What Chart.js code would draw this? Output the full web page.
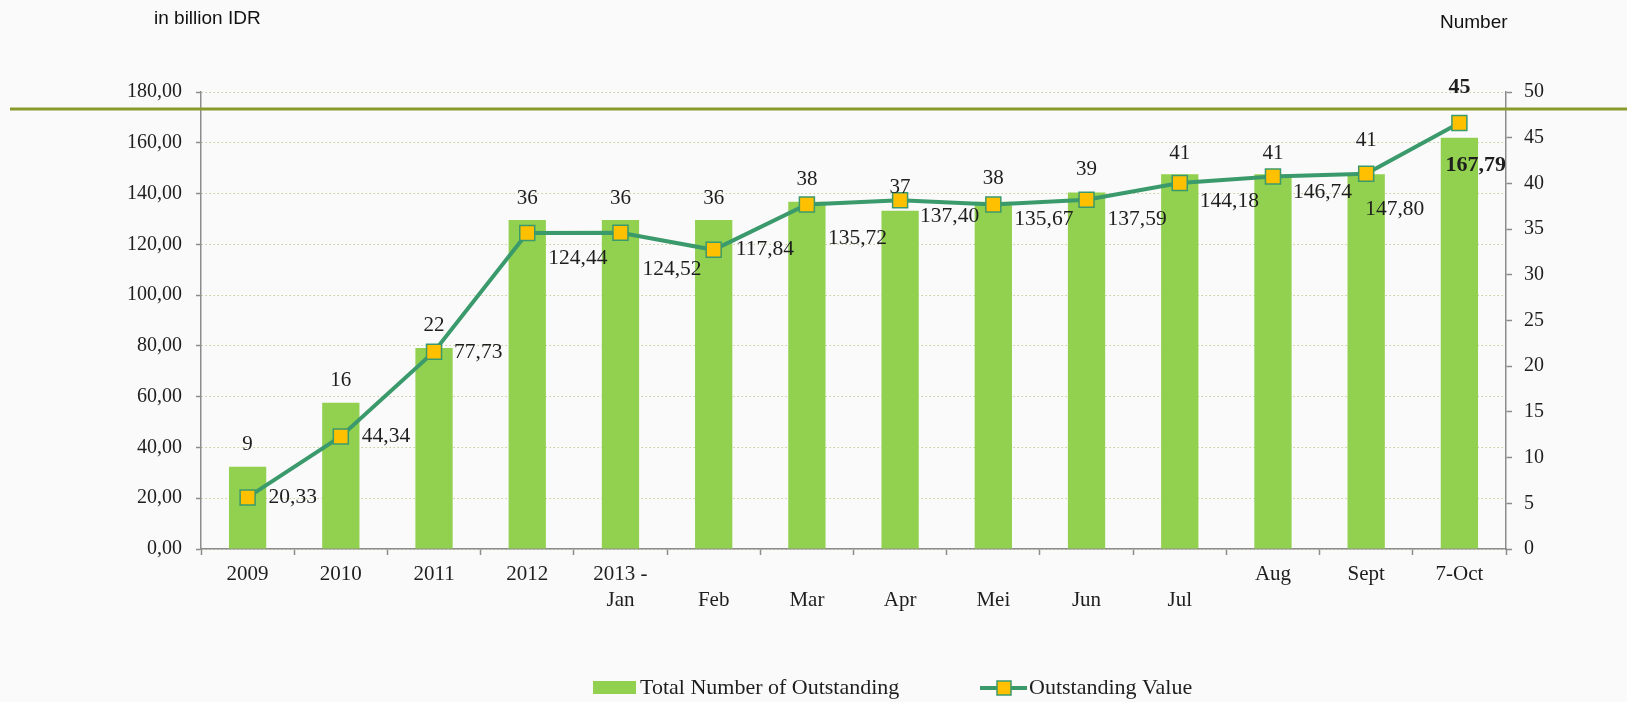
<!DOCTYPE html>
<html>
<head>
<meta charset="utf-8">
<script src="https://cdn.jsdelivr.net/npm/chart.js@4.4.1/dist/chart.umd.min.js"></script>
<style>
body{margin:0;background:#fafafa;}
canvas{display:block;}
</style>
</head>
<body>
<canvas id="outstandingChart" width="1627" height="702"></canvas>
<script>
const categories = [["2009"],["2010"],["2011"],["2012"],["2013 -","Jan"],["","Feb"],["","Mar"],["","Apr"],["","Mei"],["","Jun"],["","Jul"],["Aug"],["Sept"],["7-Oct"]];
const totalNumber = [9,16,22,36,36,36,38,37,38,39,41,41,41,45];
const outstandingValue = [20.33,44.34,77.73,124.44,124.52,117.84,135.72,137.40,135.67,137.59,144.18,146.74,147.80,167.79];
const valueTicks = [0,20,40,60,80,100,120,140,160,180];
const numberTicks = [0,5,10,15,20,25,30,35,40,45,50];

const barColor = "#92d050";
const lineColor = "#3b9a6c";
const serif = "'Liberation Serif', 'Times New Roman', serif";

// label nudges so the two series' labels don't collide
const numberLabelShift = [-22,-22,-22,-21,-21,-21,-22,-23,-23,-23,-21,-21,-34,-50];
const valueLabelShift = [[21,0],[21,0],[20,1],[21,25],[22,37],[22,0],[21,34],[20,16],[21,15],[21,20],[20,18],[20,16],[-1,36],[-14,42]];

const fmt = v => v.toFixed(2).replace(".", ",");

const decor = {
id:"decor",
beforeDraw(chart){
const c = chart.ctx;
c.save();
c.fillStyle = "#fafafa";
c.fillRect(0,0,chart.width,chart.height);
c.restore();
},
afterDatasetsDraw(chart){
const c = chart.ctx;
c.save();
c.fillStyle = "#1e1e1e";
c.textAlign = "center";
c.textBaseline = "middle";

chart.getDatasetMeta(1).data.forEach((bar,i)=>{
let last = i === totalNumber.length-1;
c.font = (last ? "bold 22px " : "21px ") + serif;
c.fillText(String(totalNumber[i]), bar.x, bar.y + numberLabelShift[i]);
});

c.textAlign = "left";
chart.getDatasetMeta(0).data.forEach((pt,i)=>{
let last = i === outstandingValue.length-1;
c.font = (last ? "bold 22px " : "21.5px ") + serif;
c.fillText(fmt(outstandingValue[i]), pt.x + valueLabelShift[i][0], pt.y + valueLabelShift[i][1]);
});
c.restore();
},
afterDraw(chart){
const c = chart.ctx;
c.save();

// olive rule across the page
c.strokeStyle = "#889a2c";
c.lineWidth = 3;
c.beginPath();
c.moveTo(10,109);
c.lineTo(chart.width,109);
c.stroke();

// axis captions
c.fillStyle = "#111";
c.textBaseline = "middle";
c.font = "19px 'Liberation Sans', Arial, sans-serif";
c.fillText("in billion IDR",154,19);
c.fillText("Number",1440,23);

// legend
c.font = "22px " + serif;
c.fillStyle = barColor;
c.fillRect(593,681,43,13);
c.fillStyle = "#1e1e1e";
c.fillText("Total Number of Outstanding",640,688);

c.strokeStyle = lineColor;
c.lineWidth = 4;
c.beginPath();
c.moveTo(980,688);
c.lineTo(1027,688);
c.stroke();
c.fillStyle = "#ffc000";
c.fillRect(997,681,14,14);
c.lineWidth = 1.5;
c.strokeRect(997,681,14,14);
c.fillStyle = "#1e1e1e";
c.fillText("Outstanding Value",1029,688);

c.restore();
}
};

const ctx = document.getElementById("outstandingChart").getContext("2d");

new Chart(ctx,{
type:"bar",
data:{
labels:categories,
datasets:[
{
type:"line",
label:"Outstanding Value",
data:outstandingValue,
yAxisID:"y",
borderColor:lineColor,
borderWidth:4,
tension:0,
pointStyle:"rect",
pointRadius:10.6,
pointHoverRadius:10.6,
pointBackgroundColor:"#ffc000",
pointBorderColor:lineColor,
pointBorderWidth:1.5
},
{
label:"Total Number of Outstanding",
data:totalNumber,
yAxisID:"y1",
backgroundColor:barColor,
borderWidth:0,
barPercentage:0.4,
categoryPercentage:1
}
]
},
options:{
responsive:false,
animation:false,
layout:{padding:{top:92,left:0,right:0,bottom:0}},
plugins:{legend:{display:false},tooltip:{enabled:false}},
scales:{
x:{
offset:true,
grid:{offset:true,drawOnChartArea:false,tickLength:6,tickColor:"#8c8c8c",tickWidth:1.5},
border:{color:"#8c8c8c",width:1.5},
ticks:{font:{family:serif,size:21,lineHeight:1.25},color:"#1e1e1e",padding:6,maxRotation:0,autoSkip:false},
afterFit(s){s.height = 153;}
},
y:{
position:"left",
min:0,max:180,
afterBuildTicks(s){s.ticks = valueTicks.map(v=>({value:v}));},
grid:{color:"#c9cd98",lineWidth:1,tickColor:"#8c8c8c",tickLength:5,tickWidth:1.5},
border:{color:"#8c8c8c",width:1.5,dash:[1.5,2.5]},
ticks:{font:{family:serif,size:20},color:"#1e1e1e",padding:14,callback:v=>fmt(v)},
afterFit(s){s.width = 201;}
},
y1:{
position:"right",
min:0,max:50,
afterBuildTicks(s){s.ticks = numberTicks.map(v=>({value:v}));},
grid:{drawOnChartArea:false,tickColor:"#8c8c8c",tickLength:6,tickWidth:1.5},
border:{color:"#8c8c8c",width:1.5},
ticks:{font:{family:serif,size:20},color:"#1e1e1e",padding:12},
afterFit(s){s.width = 121;}
}
}
},
plugins:[decor]
});
</script>
</body>
</html>
